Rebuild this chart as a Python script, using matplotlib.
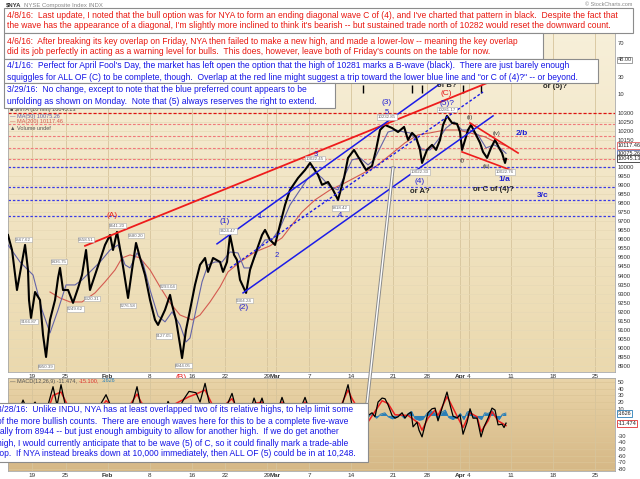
import numpy as np
import matplotlib
matplotlib.use('Agg')
import matplotlib.pyplot as plt
from matplotlib.patches import Rectangle
from matplotlib.lines import Line2D
from matplotlib.colors import LinearSegmentedColormap

plt.rcParams['font.family'] = ['Liberation Sans', 'DejaVu Sans']

# x = trading days counted from Tue Jan 19 2016 (10 minute bars)
price_day = [-2.86, -2.38, -1.79, -1.19, -0.83, -0.48, -0.36, -0.12, 0.36, 0.95,
             1.31, 1.67, 2.14, 2.74, 3.10, 3.33, 3.69, 4.29, 4.88, 5.48,
             5.95, 6.43, 6.90, 7.50, 8.10, 8.69, 9.29, 9.64, 10.12, 10.71,
             11.43, 11.90, 12.38, 12.86, 13.45, 14.05, 14.64, 15.00, 15.83, 16.43,
             16.67, 17.14, 17.62, 17.86, 18.33, 18.81, 19.40, 20.00, 20.60, 20.95,
             21.55, 22.38, 22.74, 23.21, 23.57, 24.05, 24.40, 24.76, 25.48, 25.95,
             26.55, 27.38, 27.74, 28.33, 28.93, 29.52, 30.12, 30.71, 31.67, 32.50,
             33.10, 34.05, 34.52, 35.24, 35.83, 36.43, 37.14, 37.62, 38.33, 39.05,
             39.76, 40.48, 40.95, 41.43, 42.02, 42.86, 43.57, 44.29, 44.76, 45.24,
             45.71, 46.19, 46.43, 47.02, 47.62, 48.10, 48.57, 48.93, 49.40, 50.00,
             50.60, 50.95, 51.19, 51.55, 51.90, 52.26, 52.86, 53.33, 53.69, 54.17,
             54.64, 55.12, 55.60, 55.95, 56.31, 56.43]
price_val = [9624, 9541, 9320, 9475, 9569, 9431, 9265, 9166, 9309, 9265,
             9072, 8950, 9155, 9265, 9387, 9442, 9320, 9320, 9249, 9331,
             9403, 9541, 9320, 9403, 9486, 9569, 9624, 9541, 9641, 9486,
             9276, 9431, 9580, 9497, 9403, 9265, 9155, 9127, 9210, 9293,
             9238, 9155, 9017, 8944, 9099, 9210, 9348, 9459, 9497, 9420,
             9497, 9475, 9420, 9475, 9624, 9514, 9486, 9376, 9304, 9431,
             9514, 9624, 9652, 9597, 9569, 9680, 9790, 9873, 9939, 9983,
             10022, 9956, 9901, 9917, 9873, 9818, 9939, 10050, 10094, 10039,
             9983, 10006, 10094, 10204, 10232, 10215, 10193, 10221, 10149, 10188,
             10166, 10094, 10022, 10094, 10122, 10094, 10149, 10232, 10282, 10243,
             10238, 10193, 10094, 10149, 10204, 10232, 10177, 10133, 10083, 10050,
             10105, 10149, 10105, 10077, 10022, 10045]

ma50_day = [-2.86, -1.43, 0.12, 1.19, 2.14, 3.10, 4.05, 5.12, 5.95, 6.90,
            8.10, 9.29, 10.24, 11.07, 11.67, 12.50, 13.21, 14.05, 15.00, 15.83,
            16.67, 17.62, 18.33, 18.81, 19.52, 20.24, 20.95, 21.79, 22.62, 23.57,
            24.52, 25.24, 25.95, 26.90, 27.74, 28.57, 29.52, 30.71, 31.90, 32.86,
            33.69, 34.52, 35.48, 36.43, 37.26, 38.10, 39.05, 40.00, 40.71, 41.43,
            42.38, 43.33, 44.29, 45.00, 45.71, 46.43, 47.38, 48.33, 49.29, 50.24,
            51.19, 52.14, 53.10, 54.05, 55.00, 55.71, 56.43]
ma50_val = [9569, 9475, 9403, 9210, 9083, 9210, 9348, 9348, 9376, 9420,
            9475, 9541, 9569, 9459, 9442, 9525, 9470, 9320, 9177, 9144,
            9199, 9127, 9033, 9055, 9210, 9365, 9459, 9475, 9475, 9530,
            9525, 9442, 9442, 9541, 9597, 9597, 9663, 9790, 9873, 9939,
            9972, 9939, 9890, 9873, 9956, 10039, 10050, 10011, 10039, 10105,
            10193, 10204, 10193, 10188, 10149, 10094, 10094, 10149, 10215, 10249,
            10204, 10204, 10177, 10105, 10122, 10105, 10075]

ma200_day = [2.14, 3.33, 4.52, 5.95, 7.50, 8.69, 9.88, 10.71, 11.67, 12.86,
             14.05, 15.24, 16.43, 17.62, 19.05, 20.00, 21.19, 22.38, 23.33, 24.76,
             26.55, 28.33, 29.76, 30.95, 32.14, 33.69, 35.48, 37.26, 39.05, 40.83,
             42.62, 44.40, 45.95, 47.38, 49.17, 50.71, 52.14, 53.93, 55.12, 56.43]
ma200_val = [9309, 9276, 9254, 9254, 9304, 9365, 9431, 9497, 9514, 9497,
             9431, 9337, 9249, 9182, 9155, 9182, 9254, 9337, 9420, 9475,
             9530, 9564, 9608, 9680, 9751, 9818, 9873, 9912, 9956, 10000,
             10066, 10133, 10177, 10188, 10204, 10204, 10188, 10166, 10138, 10117]

macd_day = [-2.86, -2.02, -1.07, -0.48, 0.36, 1.19, 1.90, 2.50, 2.98, 3.45,
            4.05, 5.12, 6.67, 7.86, 8.81, 9.52, 10.71, 11.90, 12.50, 12.98,
            14.05, 15.24, 16.19, 17.02, 18.10, 18.69, 19.52, 20.00, 20.60, 21.07,
            21.90, 22.86, 23.81, 24.40, 25.36, 26.43, 26.90, 27.38, 27.98, 28.93,
            29.76, 30.36, 31.31, 32.50, 33.10, 34.29, 35.71, 36.90, 37.62, 38.10,
            39.05, 39.88, 40.00, 40.48, 40.83, 41.19, 41.67, 42.02, 42.38, 42.86,
            43.21, 43.57, 44.05, 44.40, 44.76, 45.12, 45.36, 45.83, 46.07, 46.43,
            46.79, 47.14, 47.62, 47.98, 48.33, 48.81, 49.17, 49.40, 49.76, 50.12,
            50.60, 50.95, 51.31, 51.79, 52.14, 52.50, 52.98, 53.45, 53.81, 54.29,
            54.76, 55.12, 55.48, 55.95, 56.19, 56.43]
macd_val = [5, -8, 23, 5, 20, 0, 15, 43, 15, 46,
            10, -15, -20, 10, 31, 10, -10, 15, 43, 12,
            -15, -20, 21, 0, 25, 36, 34, 20, 48, 20,
            -5, 5, 33, 5, -20, 26, 10, 26, 0, -5,
            27, 5, -10, 27, 5, -15, -20, 15, 46, 15,
            -15, -17, 0, 4, -2, 20, 26, 25, 16, 0,
            -4, -2, 4, -4, 2, 5, -17, -10, -22, -32,
            -14, 4, 10, 11, -8, 11, 26, 35, 16, -1,
            -4, 1, -28, -10, 10, -4, -4, -32, -17, -4,
            11, 8, -14, -13, -18, -11.474]

signal_day = [-2.86, -1.07, 0.36, 1.90, 2.50, 3.45, 4.05, 5.12, 6.67, 8.81,
              9.52, 10.71, 12.50, 12.98, 15.24, 16.19, 18.69, 19.52, 20.60, 21.90,
              23.81, 25.36, 26.43, 27.38, 28.93, 29.76, 31.31, 32.50, 34.29, 35.71,
              37.62, 38.10, 39.88, 41.67, 42.38, 43.21, 44.76, 46.07, 46.43, 47.14,
              47.98, 48.33, 49.40, 49.76, 50.60, 51.31, 52.14, 52.98, 53.45, 54.29,
              54.76, 55.48, 56.43]
signal_val = [3, 15, 14, 8, 30, 35, 20, -5, -15, 22,
              15, -3, 32, 20, -15, 12, 28, 32, 38, 5,
              25, -10, 18, 20, 0, 20, -3, 20, -8, -15,
              38, 25, -12, 22, 18, 1, 0, -12, -22, -4,
              8, 0, 28, 20, -1, -18, 4, -2, -24, -8,
              6, -8, -15.1]

hist_day = [40.0, 40.5, 41.0, 41.5, 42.0, 42.4, 42.9, 43.3, 43.8, 44.3,
            44.8, 45.2, 45.6, 46.1, 46.5, 47.0, 47.4, 47.9, 48.3, 48.8,
            49.2, 49.6, 50.1, 50.6, 51.0, 51.4, 51.8, 52.2, 52.6, 53.0,
            53.5, 53.9, 54.3, 54.8, 55.2, 55.6, 56.0, 56.4]
hist_val = [-2, 3, -4, 2, 4, -2, -5, -3, 2, -4,
            3, 6, -5, -7, -6, 3, 7, 4, -5, 5,
            8, -3, -6, -2, 3, -6, 5, 7, -3, -2,
            -6, 4, 3, 7, -2, -6, 2, 3.626]

date_ticks = [0, 4, 14, 19, 23, 28, 33, 38, 43, 47, 52, 57, 62, 67]
date_labels = ['19', '25', '8', '16', '22', '29', '7', '14', '21', '28', '4', '11', '18', '25']
month_ticks = [9, 29, 51]
month_labels = ['Feb', 'Mar', 'Apr']

price_ticks = list(range(8900, 10301, 50))
price_hidden = [10050, 10100]
macd_ticks = list(range(-80, 51, 10))
macd_hidden = [0, -10, -20]
volume_ticks = [10680, 10492, 10398]
volume_labels = ['70', '30', '10']

level_top = [10300]
levels_red = [10236, 10172, 10107, 10042]
levels_blue = [10000, 9890, 9818, 9728]

line_a = ([6.31, 54.52], [9564, 10470])
wedge_hi = ([52.14, 57.86], [10243, 10077])
wedge_lo = ([51.19, 57.26], [10083, 9978])
chan_top = ([22.02, 50.36], [9575, 10519])
chan_mid = ([23.57, 53.69], [9442, 10414])
chan_low = ([25.12, 54.88], [9304, 10282])

vol_spikes = [39.4, 45.2, 46.4, 51.3, 53.5]

blue_waves = [('(1)', 22.98, 9696), ('(2)', 25.24, 9221), ('(3)', 42.26, 10354),
              ('(4)', 46.19, 9917), ('(5)?', 49.40, 10348)]
blue_minor = [('1', 27.14, 9724), ('2', 29.17, 9508), ('3', 33.81, 10066),
              ('4', 36.67, 9729), ('5', 42.26, 10298)]
blue_bold = [('2/b', 58.33, 10182), ('1/a', 56.19, 9928), ('3/c', 60.83, 9840)]
red_waves = [('(A)', 9.52, 9729), ('(B)', 17.74, 8834), ('(C)', 49.29, 10403)]
black_bold = [('of B?', 49.40, 10448), ('or (5)?', 62.26, 10442),
              ('or A?', 46.19, 9862), ('or C of (4)?', 54.88, 9878)]
black_small = [('(i)', 51.19, 10033), ('(ii)', 52.14, 10271),
               ('(iii)', 54.05, 10000), ('(iv)', 55.24, 10182)]

pivot_tags = [(-1.07, 9597, '9567.62'), (-0.36, 9144, '9166.87'), (1.67, 8895, '8950.39'),
              (3.21, 9475, '9436.75'), (5.12, 9215, '9249.62'), (6.43, 9597, '9558.51'),
              (7.14, 9271, '9320.31'), (10.12, 9674, '9641.20'), (11.43, 9232, '9276.58'),
              (12.38, 9619, '9580.20'), (15.71, 9066, '9127.05'), (16.19, 9337, '9293.04'),
              (17.98, 8901, '8944.05'), (23.33, 9646, '9624.47'), (25.24, 9260, '9304.24'),
              (33.69, 10044, '10022.45'), (36.67, 9773, '9818.42'), (42.26, 10276, '10232.85'),
              (46.19, 9972, '10022.33'), (49.40, 10315, '10281.17'), (56.31, 9972, '10022.76')]

note_0408 = ["4/8/16:  Last update, I noted that the bull option was for NYA to form an ending diagonal wave C of (4), and I've charted that pattern in black.  Despite the fact that",
             "the wave has the appearance of a diagonal, I'm slightly more inclined to think it's bearish -- but sustained trade north of 10282 would reset the downward count."]
note_0406 = ["4/6/16:  After breaking its key overlap on Friday, NYA then failed to make a new high, and made a lower-low -- meaning the key overlap",
             "did its job perfectly in acting as a warning level for bulls.  This does, however, leave both of Friday's counts on the table for now."]
note_0401 = ["4/1/16:  Perfect for April Fool's Day, the market has left open the option that the high of 10281 marks a B-wave (black).  There are just barely enough",
             "squiggles for ALL OF (C) to be complete, though.  Overlap at the red line might suggest a trip toward the lower blue line and \"or C of (4)?\" -- or beyond."]
note_0329 = ["3/29/16:  No change, except to note that the blue preferred count appears to be",
             "unfolding as shown on Monday.  Note that (5) always reserves the right to extend."]
note_0328 = ["3/28/16:  Unlike INDU, NYA has at least overlapped two of its relative highs, to help limit some",
             "of the more bullish counts.  There are enough waves here for this to be a complete five-wave",
             "rally from 8944 -- but just enough ambiguity to allow for another high.  If we do get another",
             "high, I would currently anticipate that to be wave (5) of C, so it could finally mark a trade-able",
             "top.  If NYA instead breaks down at 10,000 immediately, then ALL OF (5) could be in at 10,248."]

W, H = 640.0, 479.0
fig = plt.figure(figsize=(6.4, 4.79), dpi=100)
fig.patch.set_facecolor('white')
renderer = fig.canvas.get_renderer()


def fx(px):
    return px / W


def fy(py):
    return 1.0 - py / H


ax = fig.add_axes([fx(8), fy(372), (615 - 8) / W, (372 - 10) / H])
ax2 = fig.add_axes([fx(8), fy(471), (615 - 8) / W, (471 - 378) / H])
ax.set_xlim(-2.86, 69.4)
ax.set_ylim(8867, 10867)
ax2.set_xlim(-2.86, 69.4)
ax2.set_ylim(-83, 56)


def paint(a, top, bottom):
    cmap = LinearSegmentedColormap.from_list('bg', [top, bottom])
    x0, x1 = a.get_xlim()
    y0, y1 = a.get_ylim()
    a.imshow(np.linspace(0, 1, 256).reshape(-1, 1), cmap=cmap, aspect='auto',
             extent=[x0, x1, y0, y1], origin='upper', zorder=0)
    a.set_xlim(x0, x1)
    a.set_ylim(y0, y1)


paint(ax, '#f8f1dc', '#ebd9ae')
paint(ax2, '#e9d4a8', '#d6b886')

for a in (ax, ax2):
    for x in date_ticks + month_ticks:
        a.axvline(x, color='#d6c49c', lw=0.6, zorder=1)
    for s in a.spines.values():
        s.set_color('#a8a8a8')
        s.set_linewidth(0.6)
    a.yaxis.tick_right()
    a.tick_params(axis='y', length=0, pad=2, labelsize=4.2, labelcolor='#333333')
    a.tick_params(axis='x', length=0, pad=1.5, labelsize=4.6, labelcolor='#333333')
    ticks = date_ticks + month_ticks
    a.set_xticks(ticks)
    a.set_xticklabels(date_labels + month_labels)
    for lbl in a.get_xticklabels():
        if lbl.get_text() in month_labels:
            lbl.set_fontweight('bold')
for p in price_ticks:
    ax.axhline(p, color='#e6d9b6', lw=0.5, zorder=1)
for m in macd_ticks:
    ax2.axhline(m, color='#dcc596', lw=0.5, zorder=1)

ax.set_yticks(price_ticks)
ax.set_yticklabels(['' if p in price_hidden else str(p) for p in price_ticks])
ax2.set_yticks(macd_ticks)
ax2.set_yticklabels(['' if m in macd_hidden else str(m) for m in macd_ticks])

ytr = ax.get_yaxis_transform()
for v, s in zip(volume_ticks, volume_labels):
    ax.text(1.004, v, s, transform=ytr, fontsize=4.2, color='#333333', va='center')
ax.text(1.004, 10591, '48.00', transform=ytr, fontsize=4.0, color='#333333', va='center',
        bbox=dict(boxstyle='square,pad=0.15', fc='white', ec='#777777', lw=0.5))
for s, v, ec in [('10117.46', 10117, '#e06060'), ('10075.26', 10075, '#5b6fb0'),
                 ('10045.13', 10045, '#333333')]:
    ax.text(1.004, v, s, transform=ytr, fontsize=4.0, color='#222222', va='center',
            bbox=dict(boxstyle='square,pad=0.15', fc='white', ec=ec, lw=0.6), clip_on=False)
ytr2 = ax2.get_yaxis_transform()
ax2.text(1.004, 2.5, '3.626', transform=ytr2, fontsize=4.0, color='#222222', va='center',
         bbox=dict(boxstyle='square,pad=0.15', fc='white', ec='#2a7fb8', lw=0.6))
ax2.text(1.004, -12.5, '-11.474', transform=ytr2, fontsize=4.0, color='#222222', va='center',
         bbox=dict(boxstyle='square,pad=0.15', fc='white', ec='#e03030', lw=0.6))

# horizontal levels
for v in level_top:
    ax.axhline(v, color='#dd1111', lw=0.9, ls=(0, (2.5, 1.5)), zorder=2)
for v in levels_red:
    ax.axhline(v, color='#f07a7a', lw=0.8, ls=(0, (2.5, 1.5)), zorder=2)
for v in levels_blue:
    ax.axhline(v, color='#3a3ae6', lw=0.9, ls=(0, (2, 1.5)), zorder=2)

# price and averages
ax.plot(ma200_day, ma200_val, color='#d45a50', lw=0.8, zorder=3)
ax.plot(ma50_day, ma50_val, color='#6464a8', lw=0.8, zorder=3)
ax.plot(price_day, price_val, color='black', lw=1.5, zorder=4)
ax.vlines(vol_spikes, 10409, 10453, color='black', lw=1.0, zorder=4)

# wave lines
ax.plot(*line_a, color='#ee1c1c', lw=1.3, zorder=5)
ax.plot(*wedge_hi, color='#ee1c1c', lw=1.2, zorder=5)
ax.plot(*wedge_lo, color='#ee1c1c', lw=1.2, zorder=5)
ax.plot(*chan_top, color='#1c1ce8', lw=1.1, zorder=5)
ax.plot(*chan_low, color='#1c1ce8', lw=1.1, zorder=5)
ax.plot(*chan_mid, color='#1c1ce8', lw=1.0, ls=(0, (2, 1.5)), zorder=5)

for d, p, s in pivot_tags:
    ax.text(d, p, s, fontsize=3.2, color='#666666', ha='center', va='center', zorder=6,
            bbox=dict(boxstyle='square,pad=0.12', fc='white', ec='#aaaaaa', lw=0.4))
for s, d, p in blue_waves:
    ax.text(d, p, s, fontsize=6, color='#1f1fd6', ha='center', va='center', zorder=7)
for s, d, p in blue_minor:
    ax.text(d, p, s, fontsize=5.5, color='#1f1fd6', ha='center', va='center', zorder=7)
for s, d, p in blue_bold:
    ax.text(d, p, s, fontsize=6, color='#1f1fd6', ha='center', va='center',
            fontweight='bold', zorder=7)
for s, d, p in red_waves:
    ax.text(d, p, s, fontsize=6, color='#e81c1c', ha='center', va='center', zorder=7)
for s, d, p in black_bold:
    ax.text(d, p, s, fontsize=5.5, color='#222222', ha='center', va='center',
            fontweight='bold', zorder=7)
for s, d, p in black_small:
    ax.text(d, p, s, fontsize=4, color='#333333', ha='center', va='center', zorder=7)

# MACD panel
ax2.fill_between(hist_day, 0, hist_val, color='#2a7fb8', lw=0, zorder=3)
ax2.plot(hist_day, hist_val, color='#2a7fb8', lw=0.7, zorder=3)
ax2.plot(signal_day, signal_val, color='#ee2222', lw=1.1, zorder=4)
ax2.plot(macd_day, macd_val, color='black', lw=0.9, zorder=5)


def put_runs(px, py, runs, size):
    for s, color, weight in runs:
        t = fig.text(fx(px), fy(py), s, fontsize=size, color=color, fontweight=weight,
                     va='center', ha='left', zorder=8)
        px += t.get_window_extent(renderer=renderer).width + 2


put_runs(6, 5, [('\\$NYA', '#333333', 'bold'), ('NYSE Composite Index INDX', '#888888', 'normal')], 4.3)
fig.text(fx(632), fy(5), '\u00a9 StockCharts.com', fontsize=4.0, color='#888888', ha='right', va='center')
put_runs(10, 110, [('\u25a0 \\$NYA (10 min) 10045.13', '#444444', 'normal')], 4.0)
put_runs(10, 116, [('\u2014 MA(50) 10075.26', '#6464a8', 'normal')], 4.0)
put_runs(10, 122, [('\u2014 MA(200) 10117.46', '#d45a50', 'normal')], 4.0)
put_runs(10, 128, [('\u25b2 Volume undef', '#555555', 'normal')], 4.0)
put_runs(10, 381, [('\u2014 MACD(12,26,9) -11.474,', '#555555', 'normal'),
                   ('-15.100,', '#e03030', 'normal'), ('3.626', '#2a7fb8', 'normal')], 4.0)

# leader line from the bottom note
fig.add_artist(Line2D([fx(393), fx(367)], [fy(168), fy(404)], color='#8a8a8a', lw=2.4, zorder=8.5))
fig.add_artist(Line2D([fx(393), fx(367)], [fy(168), fy(404)], color='white', lw=1.0, zorder=8.6))

# note boxes
probe = fig.text(0, 0, note_0408[0], fontsize=6)
box_fs = 6 * 620 / probe.get_window_extent(renderer=renderer).width
probe.remove()


def note(x0, y0, x1, y1, lines, ys, color, tx=7):
    fig.add_artist(Rectangle((fx(x0), fy(y1)), (x1 - x0) / W, (y1 - y0) / H,
                             transform=fig.transFigure, fc='white', ec='#8c8c8c',
                             lw=0.8, zorder=10))
    for s, y in zip(lines, ys):
        fig.text(fx(tx), fy(y), s, fontsize=box_fs, color=color, ha='left',
                 va='center', zorder=11)


red_txt = '#e8170f'
blue_txt = '#1414e6'
note(4, 8, 633, 33, note_0408, [15, 26], red_txt)
note(4, 33, 543, 59, note_0406, [41, 52], red_txt)
note(4, 59, 598, 83, note_0401, [66, 77], blue_txt)
note(4, 83, 335, 108, note_0329, [90, 101], blue_txt)
note(-5, 403, 368, 462, note_0328, [410, 421, 432, 443, 454], blue_txt, tx=-3)

fig.savefig('out.png', dpi=100)
